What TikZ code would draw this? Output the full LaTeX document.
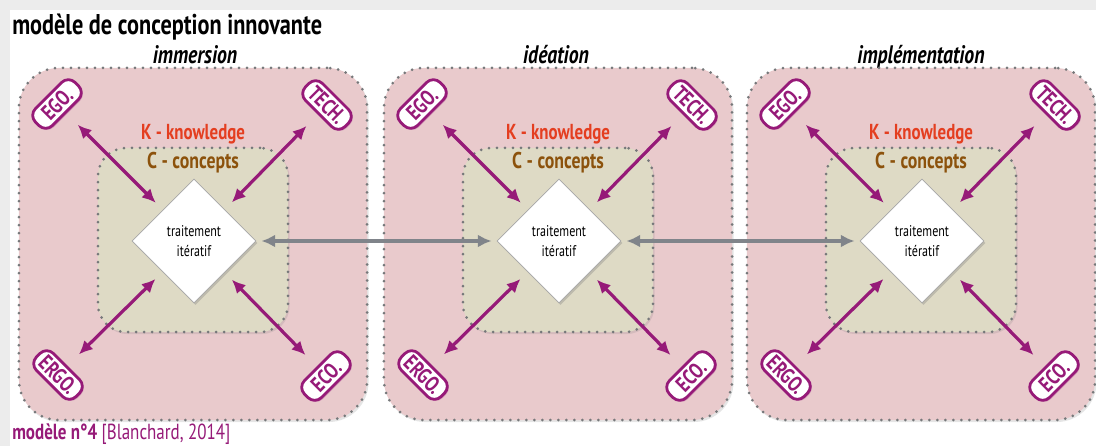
\documentclass[tikz,border=0pt]{standalone}
\usepackage{fontspec}
\setmainfont{PT Sans}[FakeStretch=0.78]
\usetikzlibrary{arrows.meta,shapes.geometric,shadows}
% 1 px of the reference = 0.25mm
\definecolor{kPink}{RGB}{233,202,204}
\definecolor{cBeige}{RGB}{222,218,197}
\definecolor{dotGray}{RGB}{118,120,122}
\definecolor{tagPurple}{RGB}{150,26,120}
\definecolor{kRed}{RGB}{228,62,32}
\definecolor{cBrown}{RGB}{140,82,12}
\definecolor{linkGray}{RGB}{128,132,138}
\definecolor{frameGray}{RGB}{236,236,236}
\tikzset{
  phasebox/.style={draw=dotGray, fill=kPink, line width=0.75mm, dash pattern=on 0pt off 2mm,
                   line cap=round, rounded corners=10mm, minimum width=87mm, minimum height=88mm,
                   drop shadow={opacity=0.2, shadow xshift=0.375mm, shadow yshift=-0.5mm}},
  conceptbox/.style={phasebox, fill=cBeige, rounded corners=7mm, minimum width=47.5mm, minimum height=46mm},
  titletext/.style={font=\bfseries\fontsize{20.3}{22}\selectfont, inner sep=0pt},
  phaselabel/.style={font=\bfseries\itshape\fontsize{18}{20}\selectfont, inner sep=0pt, anchor=base},
  ktext/.style={font=\bfseries\fontsize{15.4}{17}\selectfont, text=kRed, inner sep=0pt, anchor=base},
  ctext/.style={ktext, text=cBrown, font=\bfseries\fontsize{16.2}{18}\selectfont},
  iterdiam/.style={diamond, draw=gray!70, fill=white, line width=0.2mm, minimum size=31mm, inner sep=0pt,
                   align=center, font=\fontsize{11}{14}\selectfont,
                   drop shadow={opacity=0.35, shadow xshift=0.375mm, shadow yshift=-0.5mm}},
  tagbox/.style={draw=tagPurple, fill=white, line width=0.7mm, rounded corners=2.4mm, text=tagPurple,
                 font=\bfseries\fontsize{15.5}{16}\selectfont, minimum width=14mm, minimum height=6mm,
                 inner xsep=1.5pt, inner ysep=0.5pt,
                 drop shadow={fill=tagPurple, opacity=0.3, shadow xshift=0.375mm, shadow yshift=-0.375mm}},
  purparrow/.style={{Latex[length=3.4mm,width=3.2mm]}-{Latex[length=3.4mm,width=3.2mm]}, line width=0.8mm,
                    draw=tagPurple, shorten <=4mm, shorten >=2.5mm},
  grayarrow/.style={{Latex[length=3.4mm,width=3.2mm]}-{Latex[length=3.4mm,width=3.2mm]}, line width=0.8mm,
                    draw=linkGray, shorten <=1.25mm, shorten >=1.25mm},
  sourcetext/.style={font=\fontsize{15.5}{17}\selectfont, text=tagPurple, inner sep=0pt}
}
\begin{document}
\begin{tikzpicture}[x=0.025cm, y=-0.025cm]
\useasboundingbox (0,0) rectangle (1096,446);
\fill[frameGray] (0,0) rectangle (1096,446);
\fill[white] (10,10) rectangle (1096,446);
\node[titletext, anchor=base west] (title) at (12,35) {modèle de conception innovante};
% one panel per phase
\foreach \i/\cx/\phase in {1/195/immersion, 2/556/idéation, 3/921/implémentation}{
  \node[phaselabel] (lab\i) at (\cx,64) {\phase};
}
\foreach \i/\cx in {1/193, 2/558, 3/921}{
  \node[phasebox] (k\i) at (\cx,244) {};
  \node[conceptbox] (c\i) at (\cx,240) {};
  \node[ktext] (ktxt\i) at (\cx,140) {K - knowledge};
  \node[ctext] (ctxt\i) at (\cx,169) {C - concepts};
  \node[iterdiam] (diam\i) at (\cx+1,241) {traitement\\itératif};
  \node[tagbox, rotate=45] (ego\i) at (\cx-136,104) {EGO.};
  \node[tagbox, rotate=-45] (tech\i) at (\cx+134,105) {TECH.};
  \node[tagbox, rotate=-45] (ergo\i) at (\cx-135,375) {ERGO.};
  \node[tagbox, rotate=45] (eco\i) at (\cx+133,376) {ECO.};
  \draw[purparrow] (ego\i) -- (diam\i);
  \draw[purparrow] (tech\i) -- (diam\i);
  \draw[purparrow] (ergo\i) -- (diam\i);
  \draw[purparrow] (eco\i) -- (diam\i);
}
\draw[grayarrow] (diam1.east) -- (diam2.west);
\draw[grayarrow] (diam2.east) -- (diam3.west);
\node[sourcetext, anchor=base west] (src) at (12,439) {\textbf{modèle n°4} [Blanchard, 2014]};
\end{tikzpicture}
\end{document}
